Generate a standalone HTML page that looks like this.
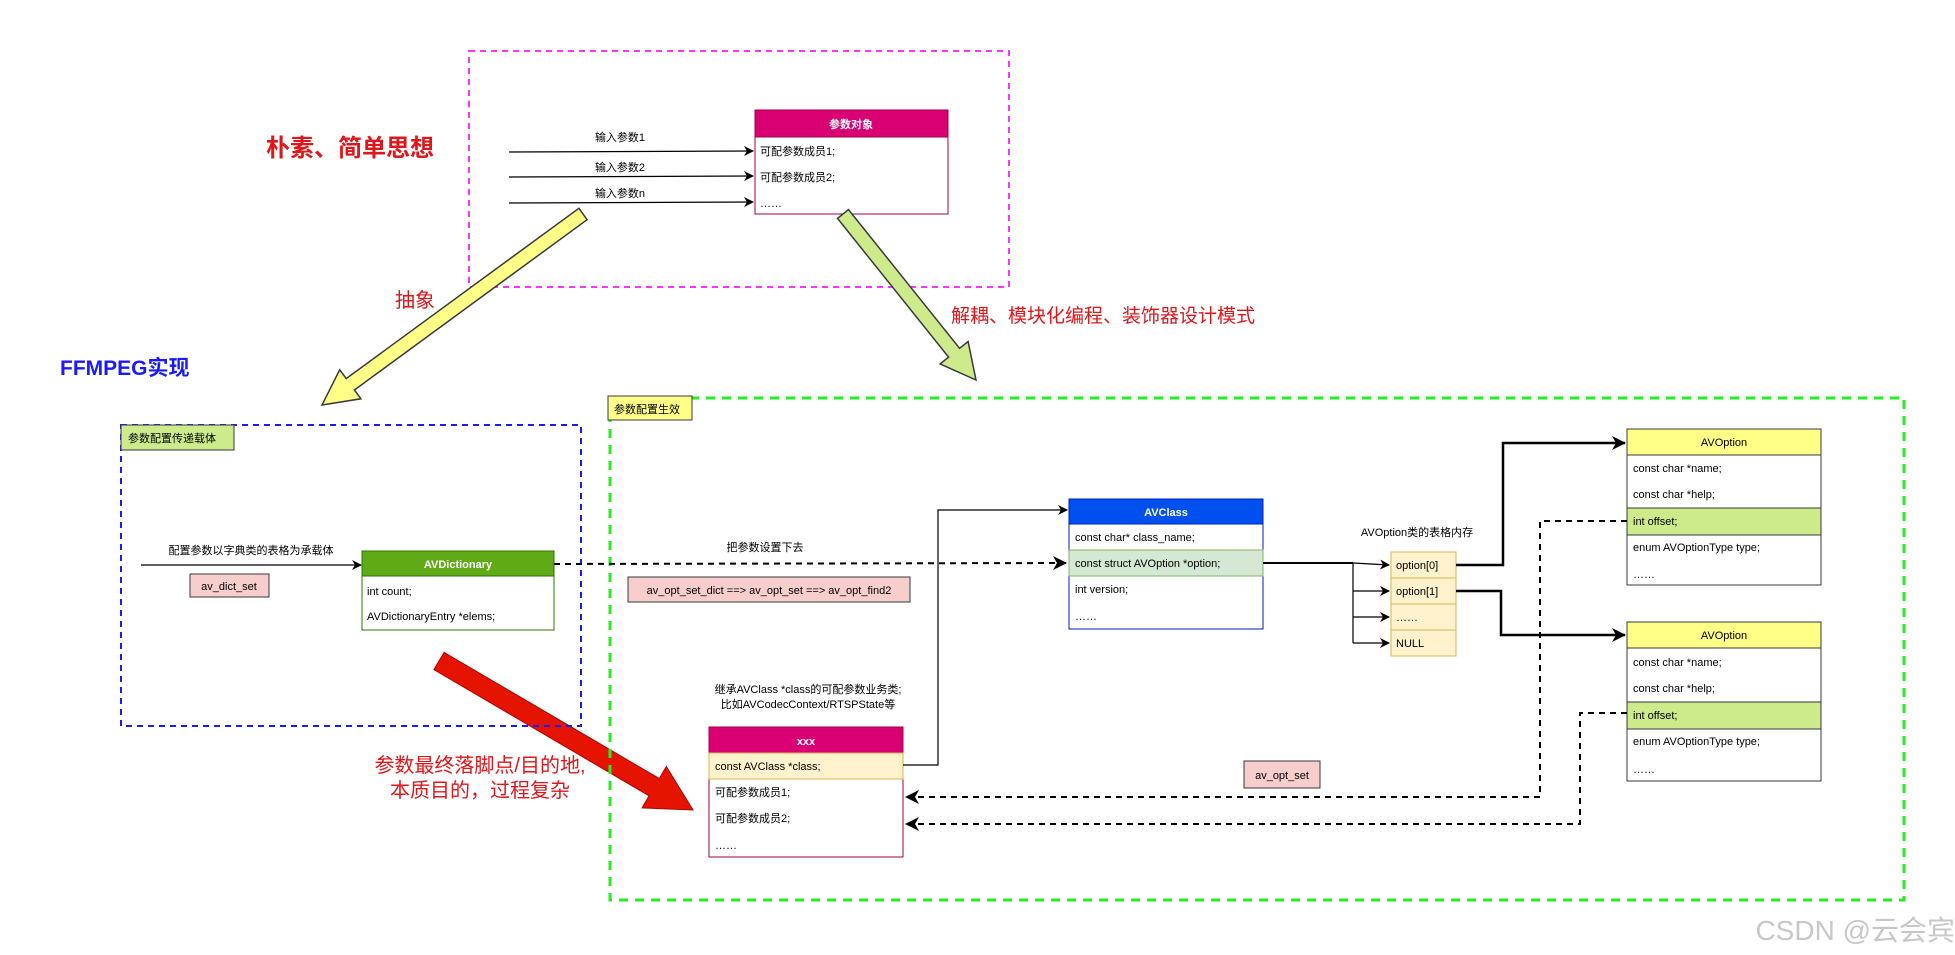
<!DOCTYPE html>
<html><head><meta charset="utf-8"><style>
html,body{margin:0;padding:0;background:#fff;}
svg{display:block;}
text{font-family:"Liberation Sans","Noto Sans CJK SC",sans-serif;}
</style></head><body>
<svg width="1955" height="955" viewBox="0 0 1955 955" xmlns="http://www.w3.org/2000/svg">
<defs>
<marker id="ar" markerWidth="10" markerHeight="10" refX="9" refY="5" orient="auto" markerUnits="userSpaceOnUse"><path d="M0,0 L10,5 L0,10 L3,5 z" fill="#000"/></marker>
<marker id="arb" markerWidth="14" markerHeight="14" refX="13" refY="7" orient="auto" markerUnits="userSpaceOnUse"><path d="M0,0 L14,7 L0,14 L4,7 z" fill="#000"/></marker>
</defs>

<!-- magenta dashed box -->
<rect x="469" y="51" width="540" height="236" fill="none" stroke="#ff33ff" stroke-width="2" stroke-dasharray="6,5"/>
<text x="266" y="156" font-size="24" font-weight="bold" fill="#e0161b">朴素、简单思想</text>

<!-- input arrows -->
<g stroke="#000" stroke-width="1.2" fill="none">
<line x1="509" y1="152" x2="753" y2="151" marker-end="url(#ar)"/>
<line x1="509" y1="177" x2="753" y2="176" marker-end="url(#ar)"/>
<line x1="509" y1="203" x2="753" y2="202" marker-end="url(#ar)"/>
</g>
<g font-size="11" fill="#000" text-anchor="middle">
<text x="620" y="141">输入参数1</text>
<text x="620" y="171">输入参数2</text>
<text x="620" y="197">输入参数n</text>
</g>
<!-- 参数对象 -->
<rect x="755" y="110" width="193" height="104" fill="#fff" stroke="#a50040" stroke-width="1"/>
<rect x="755" y="110" width="193" height="27" fill="#d80073" stroke="#a50040"/>
<text x="851" y="128" font-size="11" fill="#fff" text-anchor="middle" font-weight="bold">参数对象</text>
<g font-size="11" fill="#000"><text x="760" y="155">可配参数成员1;</text><text x="760" y="181">可配参数成员2;</text><text x="760" y="207">……</text></g>

<!-- fat arrows -->
<polygon points="587.1,219.7 354.4,390 360.9,398.8 322,405 339.7,369.8 346.2,378.6 578.9,208.3" fill="#ffff88" stroke="#36393d" stroke-width="1.5"/>
<polygon points="848.5,209.6 959.6,348.3 968.1,341.5 976,380 940.1,363.9 948.6,357.1 837.5,218.4" fill="#cdeb8b" stroke="#36393d" stroke-width="1.5"/>
<polygon points="444.1,652.4 659.3,778.6 666.3,766.5 693,810 642.1,807.9 649.1,795.8 433.9,669.6" fill="#e51400" stroke="#b20000" stroke-width="1"/>

<text x="395" y="307" font-size="20" fill="#e0161b">抽象</text>
<text x="951" y="322" font-size="19" fill="#e0161b">解耦、模块化编程、装饰器设计模式</text>
<text x="60" y="375" font-size="21" font-weight="bold" fill="#1a1aff">FFMPEG实现</text>

<!-- blue dashed box -->
<rect x="121" y="425" width="460" height="301" fill="none" stroke="#1a1aff" stroke-width="2" stroke-dasharray="6,5"/>
<rect x="121" y="425" width="113" height="25" fill="#cdeb8b" stroke="#36393d"/>
<text x="128" y="442" font-size="11" fill="#000">参数配置传递载体</text>

<line x1="141" y1="565" x2="361" y2="565" stroke="#000" stroke-width="1.2" marker-end="url(#ar)"/>
<text x="251" y="554" font-size="11" text-anchor="middle">配置参数以字典类的表格为承载体</text>
<rect x="190" y="574" width="79" height="23" fill="#f8cecc" stroke="#36393d"/>
<text x="229" y="590" font-size="11" text-anchor="middle">av_dict_set</text>

<!-- AVDictionary -->
<rect x="362" y="551" width="192" height="79" fill="#fff" stroke="#2d7600"/>
<rect x="362" y="551" width="192" height="25" fill="#60a917" stroke="#2d7600"/>
<text x="458" y="568" font-size="11" font-weight="bold" fill="#fff" text-anchor="middle">AVDictionary</text>
<g font-size="11"><text x="367" y="595">int count;</text><text x="367" y="620">AVDictionaryEntry *elems;</text></g>

<!-- green dashed box -->
<rect x="610" y="398" width="1294" height="502" fill="none" stroke="#22ee22" stroke-width="3" stroke-dasharray="9,7"/>
<rect x="608" y="396" width="84" height="24" fill="#ffff88" stroke="#36393d"/>
<text x="614" y="413" font-size="11">参数配置生效</text>

<!-- dashed AVDictionary -> AVClass -->
<line x1="554" y1="564" x2="1066" y2="563" stroke="#000" stroke-width="2" stroke-dasharray="6,5" marker-end="url(#arb)"/>
<text x="765" y="551" font-size="11" text-anchor="middle">把参数设置下去</text>
<rect x="628" y="577" width="282" height="25" fill="#f8cecc" stroke="#36393d"/>
<text x="769" y="594" font-size="11" text-anchor="middle">av_opt_set_dict ==&gt; av_opt_set ==&gt; av_opt_find2</text>

<!-- AVClass -->
<rect x="1069" y="499" width="194" height="130" fill="#fff" stroke="#001dbc"/>
<rect x="1069" y="499" width="194" height="25" fill="#0050ef" stroke="#001dbc"/>
<text x="1166" y="516" font-size="11" font-weight="bold" fill="#fff" text-anchor="middle">AVClass</text>
<rect x="1069" y="550" width="194" height="26" fill="#d5e8d4" stroke="#82b366"/>
<g font-size="11"><text x="1075" y="541">const char* class_name;</text><text x="1075" y="567">const struct AVOption *option;</text><text x="1075" y="593">int version;</text><text x="1075" y="620">……</text></g>

<!-- option table -->
<text x="1417" y="536" font-size="11" text-anchor="middle">AVOption类的表格内存</text>
<g fill="#fff2cc" stroke="#d6b656">
<rect x="1391" y="552" width="65" height="26"/><rect x="1391" y="578" width="65" height="26"/><rect x="1391" y="604" width="65" height="26"/><rect x="1391" y="630" width="65" height="26"/>
</g>
<g font-size="11"><text x="1396" y="569">option[0]</text><text x="1396" y="595">option[1]</text><text x="1396" y="621">……</text><text x="1396" y="647">NULL</text></g>
<g stroke="#000" fill="none">
<line x1="1263" y1="563" x2="1353" y2="563" stroke-width="2"/>
<path d="M1353,563 L1389,565" stroke-width="1.2" marker-end="url(#ar)"/>
<path d="M1353,563 L1353,643" stroke-width="1.2"/>
<path d="M1353,591 L1389,591" stroke-width="1.2" marker-end="url(#ar)"/>
<path d="M1353,617 L1389,617" stroke-width="1.2" marker-end="url(#ar)"/>
<path d="M1353,643 L1389,643" stroke-width="1.2" marker-end="url(#ar)"/>
<path d="M1456,565 L1503,565 L1503,443 L1625,443" stroke-width="2.5" marker-end="url(#arb)"/>
<path d="M1456,591 L1501,591 L1501,635 L1625,635" stroke-width="2.5" marker-end="url(#arb)"/>
</g>

<!-- AVOption 1 -->
<rect x="1627" y="429" width="194" height="156" fill="#fff" stroke="#36393d"/>
<rect x="1627" y="429" width="194" height="26" fill="#ffff88" stroke="#36393d"/>
<rect x="1627" y="508" width="194" height="27" fill="#cdeb8b" stroke="#36393d"/>
<text x="1724" y="446" font-size="11" text-anchor="middle">AVOption</text>
<g font-size="11"><text x="1633" y="472">const char *name;</text><text x="1633" y="498">const char *help;</text><text x="1633" y="525">int offset;</text><text x="1633" y="551">enum AVOptionType type;</text><text x="1633" y="578">……</text></g>
<!-- AVOption 2 -->
<rect x="1627" y="622" width="194" height="159" fill="#fff" stroke="#36393d"/>
<rect x="1627" y="622" width="194" height="26" fill="#ffff88" stroke="#36393d"/>
<rect x="1627" y="702" width="194" height="27" fill="#cdeb8b" stroke="#36393d"/>
<text x="1724" y="639" font-size="11" text-anchor="middle">AVOption</text>
<g font-size="11"><text x="1633" y="666">const char *name;</text><text x="1633" y="692">const char *help;</text><text x="1633" y="719">int offset;</text><text x="1633" y="745">enum AVOptionType type;</text><text x="1633" y="773">……</text></g>

<!-- dashed back lines -->
<g stroke="#000" stroke-width="2" stroke-dasharray="6,5" fill="none">
<path d="M1627,521 L1540,521 L1540,797 L906,797" marker-end="url(#arb)"/>
<path d="M1627,713 L1580,713 L1580,824 L906,824" marker-end="url(#arb)"/>
</g>
<rect x="1244" y="761" width="76" height="27" fill="#f8cecc" stroke="#36393d"/>
<text x="1282" y="779" font-size="11" text-anchor="middle">av_opt_set</text>

<!-- xxx -->
<text x="808" y="693" font-size="11" text-anchor="middle">继承AVClass *class的可配参数业务类;</text>
<text x="808" y="708" font-size="11" text-anchor="middle">比如AVCodecContext/RTSPState等</text>
<rect x="709" y="727" width="194" height="130" fill="#fff" stroke="#a50040"/>
<rect x="709" y="727" width="194" height="26" fill="#d80073" stroke="#a50040"/>
<rect x="709" y="753" width="194" height="26" fill="#fff2cc" stroke="#d6b656"/>
<text x="806" y="745" font-size="11" font-weight="bold" fill="#fff" text-anchor="middle">xxx</text>
<g font-size="11"><text x="715" y="770">const AVClass *class;</text><text x="715" y="796">可配参数成员1;</text><text x="715" y="822">可配参数成员2;</text><text x="715" y="849">……</text></g>
<path d="M903,765 L938,765 L938,510 L1067,510" stroke="#000" stroke-width="1.2" fill="none" marker-end="url(#ar)"/>

<text x="480" y="772" font-size="20" fill="#e0161b" text-anchor="middle">参数最终落脚点/目的地,</text>
<text x="480" y="797" font-size="20" fill="#e0161b" text-anchor="middle">本质目的，过程复杂</text>

<text x="1955" y="940" font-size="28" fill="#c8c8c8" text-anchor="end">CSDN @云会宾</text>
</svg>
</body></html>
